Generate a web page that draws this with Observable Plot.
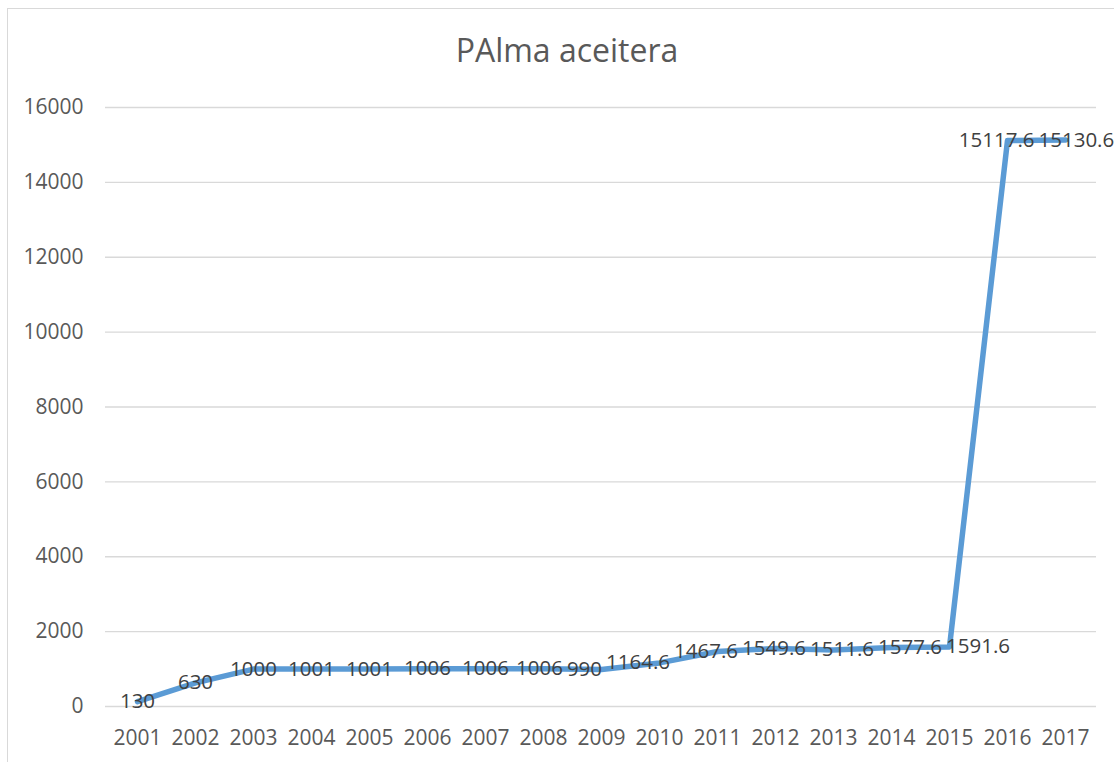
<!DOCTYPE html>
<html>
<head>
<meta charset="utf-8">
<script src="https://cdn.jsdelivr.net/npm/d3@7"></script>
<script src="https://cdn.jsdelivr.net/npm/@observablehq/plot@0.6"></script>
<style>
  html, body { margin: 0; padding: 0; background: #fff; overflow: hidden; width: 1114px; height: 762px; }
  #frame { position: absolute; left: 7px; top: 8px; width: 1200px; height: 800px; border: 1px solid #d9d9d9; box-sizing: border-box; }
  #title { position: absolute; left: 0; top: 0; width: 1134px; height: 90px; text-align: center; font-family: "Open Sans", sans-serif; font-size: 32px; color: #595959; line-height: 100px; }
  #chart { position: absolute; left: 0; top: 90px; }
</style>
</head>
<body>
<div id="frame"></div>
<div id="title">PAlma aceitera</div>
<div id="chart"></div>
<script>
const years = ["2001","2002","2003","2004","2005","2006","2007","2008","2009","2010","2011","2012","2013","2014","2015","2016","2017"];
const values = [130, 630, 1000, 1001, 1001, 1006, 1006, 1006, 990, 1164.6, 1467.6, 1549.6, 1511.6, 1577.6, 1591.6, 15117.6, 15130.6];
const yTicks = [0, 2000, 4000, 6000, 8000, 10000, 12000, 14000, 16000];

const data = years.map((y, i) => ({year: y, value: values[i]}));

const chart = Plot.plot({
  width: 1114,
  height: 672,
  marginTop: 17,
  marginBottom: 56,
  marginLeft: 105,
  marginRight: 18,
  style: {fontFamily: "Open Sans, sans-serif", fontSize: "21px", color: "#595959", background: "transparent", overflow: "visible"},
  x: {type: "point", domain: years, padding: 0.5, label: null},
  y: {domain: [0, 16000], label: null},
  marks: [
    Plot.ruleY(yTicks, {stroke: "#d9d9d9", strokeWidth: 1.3}),
    Plot.axisX({tickSize: 0, tickPadding: 24, fill: "#595959", fontSize: 21, label: null}),
    Plot.axisY({ticks: yTicks, tickSize: 0, tickPadding: 22, tickFormat: d3.format("d"), fill: "#595959", fontSize: 21, label: null}),
    Plot.line(data, {x: "year", y: "value", stroke: "#5B9BD5", strokeWidth: 5.5, strokeLinejoin: "round", strokeLinecap: "round"}),
    Plot.text(data, {x: "year", y: "value", text: d => String(d.value), fill: "#404040", fontSize: 20.5, ariaLabel: "data-labels"})
  ]
});
document.getElementById("chart").appendChild(chart);

// Spread data labels that collide (like the spreadsheet's label layout)
(function spreadLabels() {
  let g = chart.querySelector('g[aria-label="data-labels"]');
  if (!g) {
    const gs = [...chart.querySelectorAll('g[aria-label="text"]')];
    g = gs[gs.length - 1];
  }
  if (!g) return;
  const els = [...g.querySelectorAll("text")];
  const items = els.map(el => {
    const r = el.getBoundingClientRect();
    return {el, cx: r.left + r.width / 2, x: r.left + r.width / 2, cy: r.top + r.height / 2, w: r.width, h: r.height};
  });
  items.sort((a, b) => a.cx - b.cx);
  const gap = 4;
  for (let iter = 0; iter < 400; iter++) {
    let moved = false;
    for (let i = 0; i < items.length - 1; i++) {
      const a = items[i], b = items[i + 1];
      if (Math.abs(a.cy - b.cy) > a.h * 0.8) continue;
      const o = (a.x + a.w / 2 + gap) - (b.x - b.w / 2);
      if (o > 0.01) {
        a.x -= o / 2;
        b.x += o / 2;
        moved = true;
      }
    }
    if (!moved) break;
  }
  for (const it of items) {
    const s = it.x - it.cx;
    if (Math.abs(s) > 0.01) {
      const t = it.el.getAttribute("transform") || "";
      it.el.setAttribute("transform", (t + ` translate(${s.toFixed(2)},0)`).trim());
    }
  }
})();
</script>
</body>
</html>
